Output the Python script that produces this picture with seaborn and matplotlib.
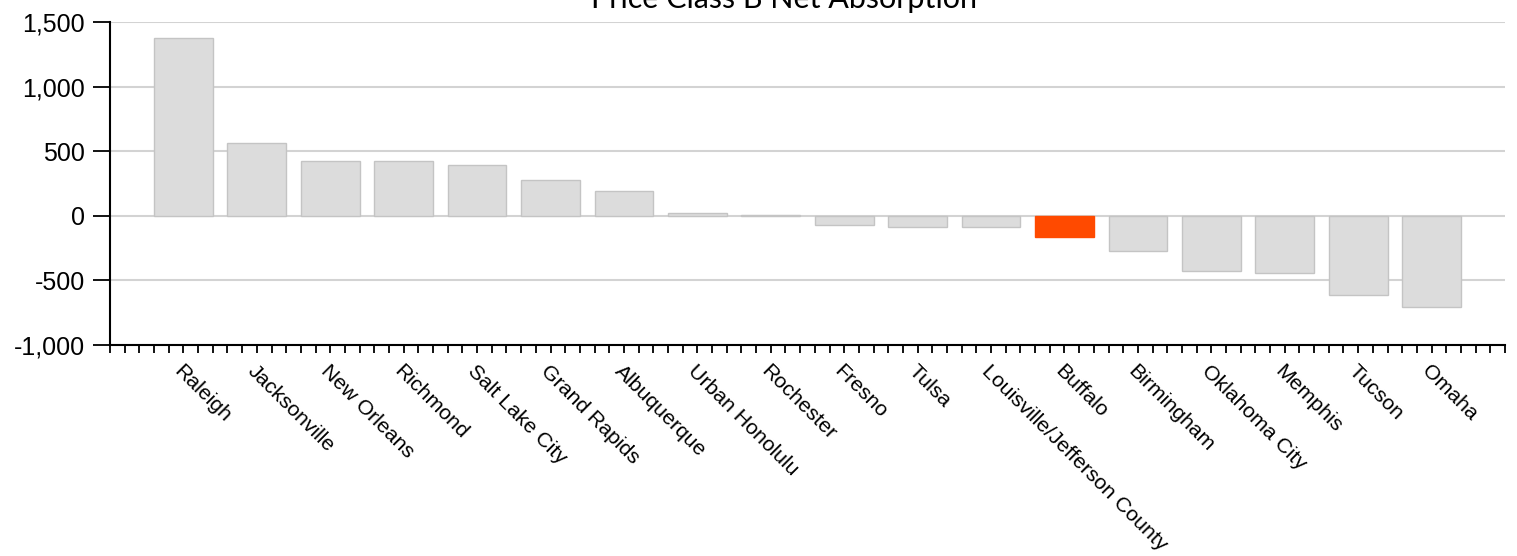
import matplotlib
matplotlib.use("Agg")
import matplotlib.pyplot as plt
from matplotlib.ticker import MultipleLocator, FuncFormatter
import seaborn as sns
import pandas as pd

cities = ["Raleigh", "Jacksonville", "New Orleans", "Richmond", "Salt Lake City",
          "Grand Rapids", "Albuquerque", "Urban Honolulu", "Rochester", "Fresno",
          "Tulsa", "Louisville/Jefferson County", "Buffalo", "Birmingham",
          "Oklahoma City", "Memphis", "Tucson", "Omaha"]
absorption = [1378, 565, 426, 426, 395, 279, 193, 22, 8, -70, -88, -88, -163,
              -273, -428, -446, -616, -706]
highlight = "Buffalo"
y_ticks = [-1000, -500, 0, 500, 1000, 1500]

sns.set_style("white")
plt.rcParams["font.family"] = ["Liberation Sans", "DejaVu Sans"]
plt.rcParams["text.color"] = "black"
plt.rcParams["xtick.color"] = "black"
plt.rcParams["ytick.color"] = "black"

df = pd.DataFrame({"city": cities, "value": absorption})
colors = ["#ff4a00" if c == highlight else "#dcdcdc" for c in cities]

fig = plt.figure(figsize=(15.17, 5.56), dpi=100)
ax = fig.add_axes([110 / 1517, 1 - 345 / 556, (1505 - 110) / 1517, (345 - 22) / 556])

sns.barplot(data=df, x="city", y="value", hue="city", palette=colors,
            saturation=1, legend=False, width=0.8, ax=ax, zorder=3)
for patch, c in zip(ax.patches, cities):
    if c == highlight:
        patch.set_edgecolor("#ff4a00")
    else:
        patch.set_edgecolor("#c4c4c4")
    patch.set_linewidth(1)

ax.set_xlim(-1, 18)
ax.set_ylim(-1000, 1500)
ax.set_yticks(y_ticks)
ax.yaxis.set_major_formatter(FuncFormatter(lambda v, p: f"{int(v):,}"))
ax.grid(axis="y", color="#d3d3d3", linewidth=1.5, zorder=0)
ax.set_axisbelow(True)

ax.xaxis.set_minor_locator(MultipleLocator(0.2))
ax.set_xticks(range(len(cities)))
ax.set_xticklabels(cities, rotation=-45, ha="left", va="top",
                   rotation_mode="anchor", fontsize=15.3, color="black")
ax.tick_params(axis="x", which="both", direction="out", length=6, width=1.3,
               color="black", bottom=True, pad=6)
ax.tick_params(axis="y", which="major", direction="out", length=12, width=1.3,
               color="black", left=True, labelsize=18, labelcolor="black", pad=6)

for side in ["top", "right"]:
    ax.spines[side].set_visible(False)
for side in ["left", "bottom"]:
    ax.spines[side].set_color("black")
    ax.spines[side].set_linewidth(1.5)

ax.set_xlabel("")
ax.set_ylabel("")

fig.text(784 / 1517, 1 - 8 / 556, "Price Class B Net Absorption", ha="center",
         va="baseline", fontsize=22, color="black", family=["Lato", "DejaVu Sans"])

fig.savefig("out.png", dpi=100)
